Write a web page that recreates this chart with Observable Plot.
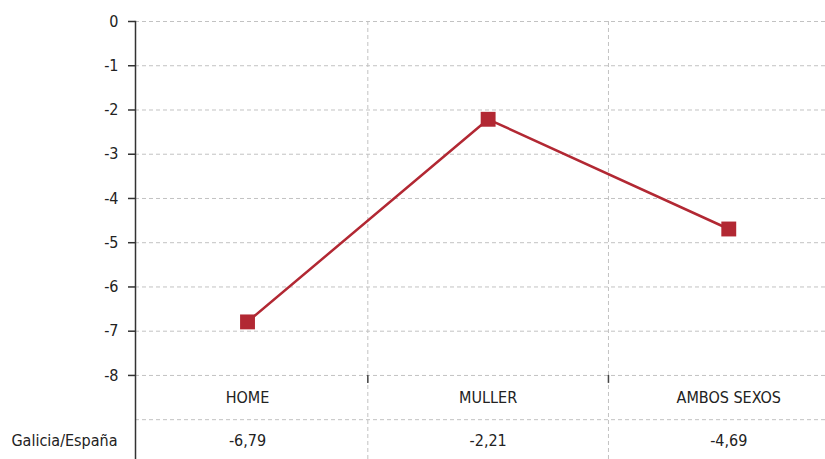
<!DOCTYPE html>
<html>
<head>
<meta charset="utf-8">
<script src="https://cdn.jsdelivr.net/npm/d3@7"></script>
<script src="https://cdn.jsdelivr.net/npm/@observablehq/plot@0.6"></script>
<style>
  html, body { margin: 0; padding: 0; background: #fff; }
</style>
</head>
<body>
<div id="chart"></div>
<script>
const categories = ["HOME", "MULLER", "AMBOS SEXOS"];
const values = [-6.79, -2.21, -4.69];
const tableLabels = ["-6,79", "-2,21", "-4,69"];
const rowLabel = "Galicia/España";
const yTicks = [0, -1, -2, -3, -4, -5, -6, -7, -8];
const tableLine = [-9];
const boundaries = [0.5, 1.5];

const data = categories.map((c, i) => ({i, c, v: values[i], t: tableLabels[i]}));

const font = "'Liberation Sans Narrow', 'DejaVu Sans Condensed', 'Roboto', sans-serif";
const red = "#b22833";
const grid = "#c2c2c2";

const chart = Plot.plot({
  width: 825,
  height: 459,
  marginLeft: 135,
  marginRight: 0,
  marginTop: 21,
  marginBottom: 0,
  style: {fontFamily: font, fontSize: "16px", color: "#222", background: "#fff"},
  x: {type: "linear", domain: [-0.4655, 2.402], axis: null},
  y: {domain: [-9.9, 0], axis: null},
  marks: [
    Plot.ruleY(yTicks.concat(tableLine), {stroke: grid, strokeWidth: 1, strokeDasharray: "4,3"}),
    Plot.ruleX(boundaries, {y1: 0, y2: -9.9, stroke: grid, strokeWidth: 1, strokeDasharray: "4,3"}),
    Plot.ruleX(boundaries, {y1: -8, y2: -8.18, stroke: "#444", strokeWidth: 1.5}),
    Plot.frame({anchor: "left", stroke: "#333", strokeWidth: 1.5}),
    Plot.axisY({ticks: yTicks, label: null, tickSize: 7, tickPadding: 10, tickFormat: d => String(d), stroke: "#333", strokeWidth: 1.5, fontSize: 16, fill: "#222"}),
    Plot.line(data, {x: "i", y: "v", stroke: red, strokeWidth: 2.5}),
    Plot.dot(data, {x: "i", y: "v", symbol: "square", r: 8.4, fill: red, stroke: "none"}),
    Plot.text(data, {x: "i", y: -8.5, text: "c", fontSize: 16, fill: "#222"}),
    Plot.text(data, {x: "i", y: -9.47, text: "t", fontSize: 16, fill: "#222"}),
    Plot.text([rowLabel], {frameAnchor: "left", y: -9.47, text: d => d, textAnchor: "end", dx: -18, fontSize: 16, fill: "#222"})
  ]
});
document.getElementById("chart").appendChild(chart);
</script>
</body>
</html>
